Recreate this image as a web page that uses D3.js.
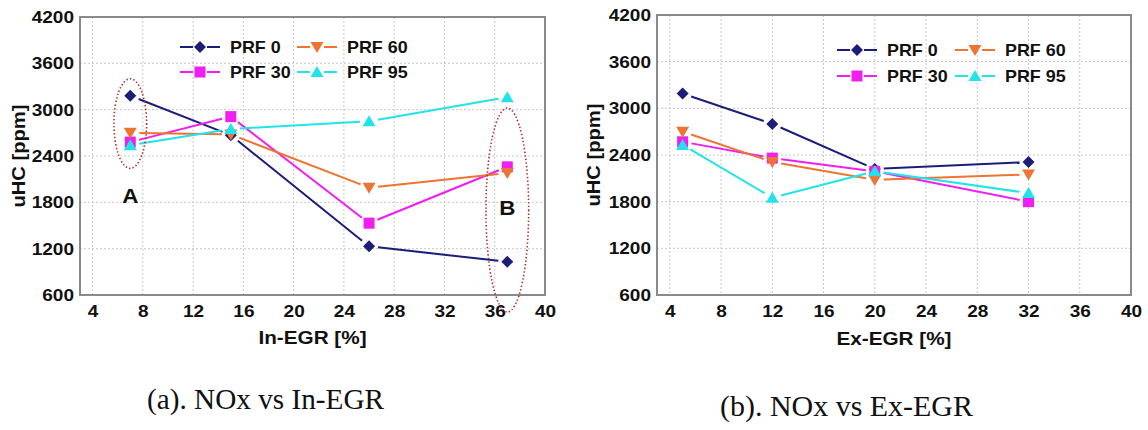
<!DOCTYPE html>
<html>
<head>
<meta charset="utf-8">
<script src="https://cdn.jsdelivr.net/npm/d3@7"></script>
<style>
  body { margin: 0; background: #fff; }
  svg text { font-family: "Liberation Sans", Arial, sans-serif; font-weight: bold; fill: #111; }
  .grid line { stroke: #c8c8c8; stroke-width: 1; stroke-dasharray: 2,2; }
  .caption { font-family: "Liberation Serif", "Times New Roman", serif; font-weight: normal; }
</style>
</head>
<body>
<svg id="chart" width="1148" height="430"></svg>
<script>
// series names / colours
const prfNames = ["PRF 0", "PRF 30", "PRF 60", "PRF 95"];
const prfColors = ["#1c1c7a", "#f01ef0", "#ee7431", "#22e4e8"];
const prfShapes = ["diamond", "square", "triDown", "triUp"];

// (a) In-EGR
const inEgr = [7, 15, 26, 37];
const inPrf0 = [3180, 2670, 1230, 1030];
const inPrf30 = [2580, 2910, 1530, 2260];
const inPrf60 = [2700, 2680, 1990, 2180];
const inPrf95 = [2540, 2750, 2850, 3160];

// (b) Ex-EGR
const exEgr = [5, 12, 20, 32];
const exPrf0 = [3190, 2800, 2220, 2310];
const exPrf30 = [2570, 2360, 2190, 1800];
const exPrf60 = [2700, 2310, 2080, 2150];
const exPrf95 = [2530, 1850, 2190, 1910];

const xTicks = [4, 8, 12, 16, 20, 24, 28, 32, 36, 40];
const yTicks = [600, 1200, 1800, 2400, 3000, 3600, 4200];

// circled groups on panel (a)
const inCircles = [
    {label: "A", x: 7, cy: 2820, ry: 580, rx: 1.3, ly: 1890},
    {label: "B", x: 37, cy: 1700, ry: 1320, rx: 1.7, ly: 1730}
];

const svg = d3.select("#chart");
const stretch = 1.12;

function markerPath(shape) {
    if (shape === "diamond") return "M0,-6L6,0L0,6L-6,0Z";
    if (shape === "square") return "M-5.5,-5.5H5.5V5.5H-5.5Z";
    if (shape === "triDown") return "M-6.5,-5L6.5,-5L0,6Z";
    return "M-6.5,5L6.5,5L0,-6Z";
}

function drawPanel(p) {
    const x = d3.scaleLinear().domain([3, 40]).range([p.left, p.right]);
    const y = d3.scaleLinear().domain([600, 4200]).range([p.bottom, p.top]);
    const g = svg.append("g");

    // grid
    g.append("g").attr("class", "grid")
        .selectAll("line").data(xTicks).enter().append("line")
        .attr("x1", d => x(d)).attr("x2", d => x(d))
        .attr("y1", p.top).attr("y2", p.bottom);
    g.append("g").attr("class", "grid")
        .selectAll("line").data(yTicks.slice(1)).enter().append("line")
        .attr("x1", p.left).attr("x2", p.right)
        .attr("y1", d => y(d)).attr("y2", d => y(d));

    // frame
    g.append("rect")
        .attr("x", p.left).attr("y", p.top)
        .attr("width", p.right - p.left).attr("height", p.bottom - p.top)
        .attr("fill", "none").attr("stroke", "#8a8a8a").attr("stroke-width", 2);

    // axes
    const xAxis = g.append("g")
        .attr("transform", "translate(0," + p.bottom + ")")
        .call(d3.axisBottom(x).tickValues(xTicks).tickSize(0).tickPadding(10));
    const yAxis = g.append("g")
        .attr("transform", "translate(" + p.left + ",0)")
        .call(d3.axisLeft(y).tickValues(yTicks).tickFormat(d3.format("d")).tickSize(0).tickPadding(6));
    [xAxis, yAxis].forEach(function(a) {
        a.select(".domain").remove();
        a.selectAll("text")
            .style("font-size", "17px")
            .attr("fill", "#111")
            .attr("transform", "scale(" + stretch + ",1)");
    });
    yAxis.selectAll("text").attr("x", -6 / stretch);

    // axis titles
    g.append("text")
        .attr("transform", "translate(" + p.yTitleX + "," + (p.top + p.bottom) / 2 + ") rotate(-90) scale(" + stretch + ",1)")
        .attr("text-anchor", "middle").attr("dy", "0.35em")
        .style("font-size", "18px")
        .text("uHC [ppm]");
    g.append("text")
        .attr("transform", "translate(" + (p.left + p.right) / 2 + "," + p.xTitleY + ") scale(" + stretch + ",1)")
        .attr("text-anchor", "middle")
        .style("font-size", "18.5px")
        .text(p.xTitle);

    // series
    p.series.forEach(function(vals, i) {
        const pts = vals.map((v, j) => [x(p.xs[j]), y(v)]);
        const gap = 9;
        for (let j = 0; j < pts.length - 1; j++) {
            const a = pts[j], b = pts[j + 1];
            const len = Math.hypot(b[0] - a[0], b[1] - a[1]);
            const ux = (b[0] - a[0]) / len, uy = (b[1] - a[1]) / len;
            g.append("line")
                .attr("x1", a[0] + ux * gap).attr("y1", a[1] + uy * gap)
                .attr("x2", b[0] - ux * gap).attr("y2", b[1] - uy * gap)
                .attr("stroke", prfColors[i]).attr("stroke-width", 2);
        }
        g.selectAll(null).data(pts).enter().append("path")
            .attr("d", markerPath(prfShapes[i]))
            .attr("transform", d => "translate(" + d[0] + "," + d[1] + ")")
            .attr("fill", prfColors[i]);
    });

    // legend
    prfNames.forEach(function(name, i) {
        const col = Math.floor(i / 2), row = i % 2;
        const lx = p.legX[col], ly = p.legY[row];
        const lg = g.append("g").attr("transform", "translate(" + lx + "," + ly + ")");
        lg.append("line").attr("x1", 0).attr("x2", 13)
            .attr("stroke", prfColors[i]).attr("stroke-width", 2);
        lg.append("line").attr("x1", 27).attr("x2", 40)
            .attr("stroke", prfColors[i]).attr("stroke-width", 2);
        lg.append("path").attr("d", markerPath(prfShapes[i]))
            .attr("transform", "translate(20,0)")
            .attr("fill", prfColors[i]);
        lg.append("text")
            .attr("transform", "translate(50,0) scale(" + stretch + ",1)")
            .attr("dy", "0.36em")
            .style("font-size", "16px")
            .text(name);
    });

    // circled groups
    (p.circles || []).forEach(function(c) {
        g.append("ellipse")
            .attr("cx", x(c.x)).attr("cy", y(c.cy))
            .attr("rx", x(c.x + c.rx) - x(c.x))
            .attr("ry", y(c.cy - c.ry) - y(c.cy))
            .attr("fill", "none").attr("stroke", "#b22a2a")
            .attr("stroke-width", 1.6).attr("stroke-dasharray", "1.4,2.2");
        g.append("text")
            .attr("transform", "translate(" + x(c.x) + "," + y(c.ly) + ") scale(" + stretch + ",1)")
            .attr("text-anchor", "middle").attr("dy", "0.36em")
            .style("font-size", "20px")
            .text(c.label);
    });

    // caption
    svg.append("text")
        .attr("class", "caption")
        .attr("x", p.capX).attr("y", p.capY)
        .attr("textLength", p.capW).attr("lengthAdjust", "spacingAndGlyphs")
        .style("font-size", "29px")
        .text(p.caption);
}

drawPanel({
    left: 80, right: 545, top: 17, bottom: 295,
    xs: inEgr, series: [inPrf0, inPrf30, inPrf60, inPrf95],
    xTitle: "In-EGR [%]", xTitleY: 344, yTitleX: 19,
    legX: [180, 297], legY: [47, 72],
    circles: inCircles,
    caption: "(a). NOx vs In-EGR", capX: 147, capY: 409, capW: 237
});

drawPanel({
    left: 657, right: 1131, top: 15, bottom: 295,
    xs: exEgr, series: [exPrf0, exPrf30, exPrf60, exPrf95],
    xTitle: "Ex-EGR [%]", xTitleY: 345, yTitleX: 594,
    legX: [837, 955], legY: [50, 76],
    caption: "(b). NOx vs Ex-EGR", capX: 720, capY: 416, capW: 253
});
</script>
</body>
</html>
